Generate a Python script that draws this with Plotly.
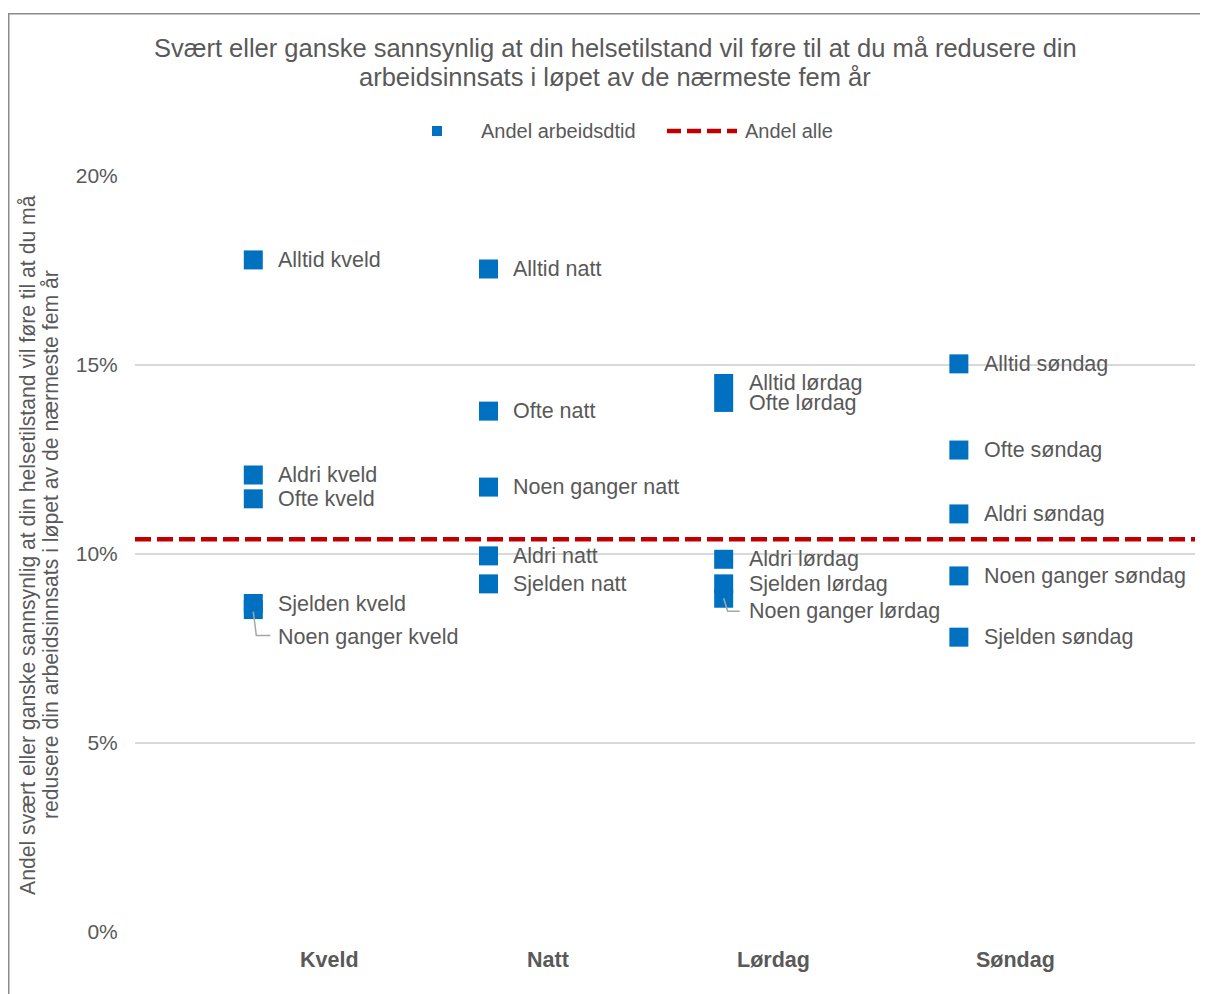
import plotly.graph_objects as go

# ---------------- data ----------------
categories = ["Kveld", "Natt", "Lørdag", "Søndag"]
group_labels = [
    ["Alltid kveld", "Aldri kveld", "Ofte kveld", "Sjelden kveld", "Noen ganger kveld"],
    ["Alltid natt", "Ofte natt", "Noen ganger natt", "Aldri natt", "Sjelden natt"],
    ["Alltid lørdag", "Ofte lørdag", "Aldri lørdag", "Sjelden lørdag", "Noen ganger lørdag"],
    ["Alltid søndag", "Ofte søndag", "Aldri søndag", "Noen ganger søndag", "Sjelden søndag"],
]
group_values = [
    [0.1778, 0.1209, 0.1146, 0.0869, 0.0853],
    [0.1754, 0.1378, 0.1177, 0.0995, 0.0921],
    [0.1451, 0.1401, 0.0986, 0.0921, 0.0883],
    [0.1503, 0.1275, 0.1106, 0.0942, 0.0780],
]
andel_alle = 0.1039
y_ticks = [0, 0.05, 0.10, 0.15, 0.20]
y_ticktext = ["0%", "5%", "10%", "15%", "20%"]

# ---------------- style / layout constants ----------------
FONT = "Arial, 'Liberation Sans', sans-serif"
TXT = "#595959"
BLUE = "#0070C0"
RED = "#C00000"
GRID = "#D9D9D9"
W, H = 1208, 994
OFF = 8  # page body margin offset
L, R, T, B = 135 - OFF, 13 + OFF, 176 - OFF, 62 + OFF
PW, PH = W - L - R, H - T - B

# label pixel offsets (vertical) for labels not sitting beside their marker
label_yshift = {"Noen ganger kveld": -27, "Noen ganger lørdag": -13,
                "Alltid lørdag": 1, "Ofte lørdag": -1}
leaders = {
    "Noen ganger kveld": "M 0,-2 L 3,-26 L 17,-26",
    "Noen ganger lørdag": "M 0,0 L 4,-13 L 16,-13",
}
cat_label_offset = [0.322, 0.253, 0.213, 0.242]


def px_x(p):
    # p: pixel position in the photographed page
    return (p - OFF - L) / PW


def px_y(p):
    return (H - B - (p - OFF)) / PH


fig = go.Figure()

xs, ys, txts = [], [], []
for i, (labs, vals) in enumerate(zip(group_labels, group_values)):
    for lab, v in zip(labs, vals):
        xs.append(i + 1)
        ys.append(v)
        txts.append(lab)

fig.add_trace(go.Scatter(
    x=xs, y=ys, mode="markers", name="Andel arbeidsdtid",
    marker=dict(symbol="square", size=19, color=BLUE, line=dict(width=0)),
    text=txts, hovertemplate="%{text}: %{y:.1%}<extra></extra>",
    showlegend=False,
))

annotations = []
shapes = []

# reference line "Andel alle"
shapes.append(dict(type="line", xref="paper", yref="y", x0=0, x1=1,
                   y0=andel_alle, y1=andel_alle, layer="above",
                   line=dict(color=RED, width=4.5, dash="16px,6px")))

# data labels
for x, y, t in zip(xs, ys, txts):
    annotations.append(dict(x=x, y=y, xref="x", yref="y", text=t,
                            showarrow=False, xanchor="left", yanchor="middle",
                            xshift=23, yshift=label_yshift.get(t, 0),
                            font=dict(family=FONT, size=21.5, color=TXT)))
    if t in leaders:
        shapes.append(dict(type="path", xref="x", yref="y",
                           xsizemode="pixel", ysizemode="pixel",
                           xanchor=x, yanchor=y, path=leaders[t],
                           line=dict(color="#A6A6A6", width=1.5), layer="above"))

# category labels
for i, c in enumerate(categories):
    annotations.append(dict(x=i + 1 + cat_label_offset[i], y=0, xref="x", yref="paper",
                            text=f"<b>{c}</b>", showarrow=False,
                            xanchor="center", yanchor="middle", yshift=-28,
                            font=dict(family=FONT, size=21.5, color=TXT)))

# y axis title (two lines)
ytitle_lines = [
    "Andel svært eller ganske sannsynlig at din helsetilstand vil føre til at du må",
    "redusere din arbeidsinnsats i løpet av de nærmeste fem år",
]
for line_text, xp in zip(ytitle_lines, [28, 51]):
    annotations.append(dict(
        x=px_x(xp), y=px_y(545), xref="paper", yref="paper", textangle=-90,
        text=line_text, showarrow=False, xanchor="center", yanchor="middle",
        font=dict(family=FONT, size=21.2, color=TXT)))

# title (two lines)
title_lines = [
    "Svært eller ganske sannsynlig at din helsetilstand vil føre til at du må redusere din",
    "arbeidsinnsats i løpet av de nærmeste fem år",
]
for line_text, yp in zip(title_lines, [48, 77]):
    annotations.append(dict(
        x=px_x(615), y=px_y(yp), xref="paper", yref="paper",
        text=line_text, showarrow=False, xanchor="center", yanchor="middle",
        font=dict(family=FONT, size=25.5, color=TXT)))

# manual legend
shapes.append(dict(type="rect", xref="paper", yref="paper",
                   xsizemode="pixel", ysizemode="pixel",
                   xanchor=px_x(437), yanchor=px_y(131),
                   x0=-5, x1=5, y0=-5, y1=5,
                   fillcolor=BLUE, line=dict(width=0)))
annotations.append(dict(x=px_x(479), y=px_y(131), xref="paper", yref="paper",
                        text="Andel arbeidsdtid", showarrow=False,
                        xanchor="left", yanchor="middle",
                        font=dict(family=FONT, size=20, color=TXT)))
shapes.append(dict(type="line", xref="paper", yref="paper",
                   x0=px_x(667), x1=px_x(737), y0=px_y(131), y1=px_y(131),
                   line=dict(color=RED, width=4.5, dash="14px,6px")))
annotations.append(dict(x=px_x(743), y=px_y(131), xref="paper", yref="paper",
                        text="Andel alle", showarrow=False,
                        xanchor="left", yanchor="middle",
                        font=dict(family=FONT, size=20, color=TXT)))

# outer frame
shapes.append(dict(type="rect", xref="paper", yref="paper",
                   x0=px_x(8.75), x1=px_x(1260), y0=px_y(1060), y1=px_y(13.75),
                   line=dict(color="#8C8C8C", width=1.5), fillcolor="rgba(0,0,0,0)"))

fig.update_layout(
    width=W, height=H,
    margin=dict(l=L, r=R, t=T, b=B),
    paper_bgcolor="white", plot_bgcolor="white",
    font=dict(family=FONT, color=TXT),
    xaxis=dict(range=[0.497, 5.004], showgrid=False, zeroline=False,
               showline=False, showticklabels=False, fixedrange=True),
    yaxis=dict(range=[0, 0.2], tickvals=y_ticks, ticktext=y_ticktext,
               showgrid=True, gridcolor=GRID, gridwidth=1.5,
               zeroline=False, showline=False,
               ticks="outside", ticklen=12, tickcolor="rgba(0,0,0,0)",
               tickfont=dict(family=FONT, size=21, color=TXT)),
    annotations=annotations,
    shapes=shapes,
    showlegend=False,
)

fig.write_html("out.html")
